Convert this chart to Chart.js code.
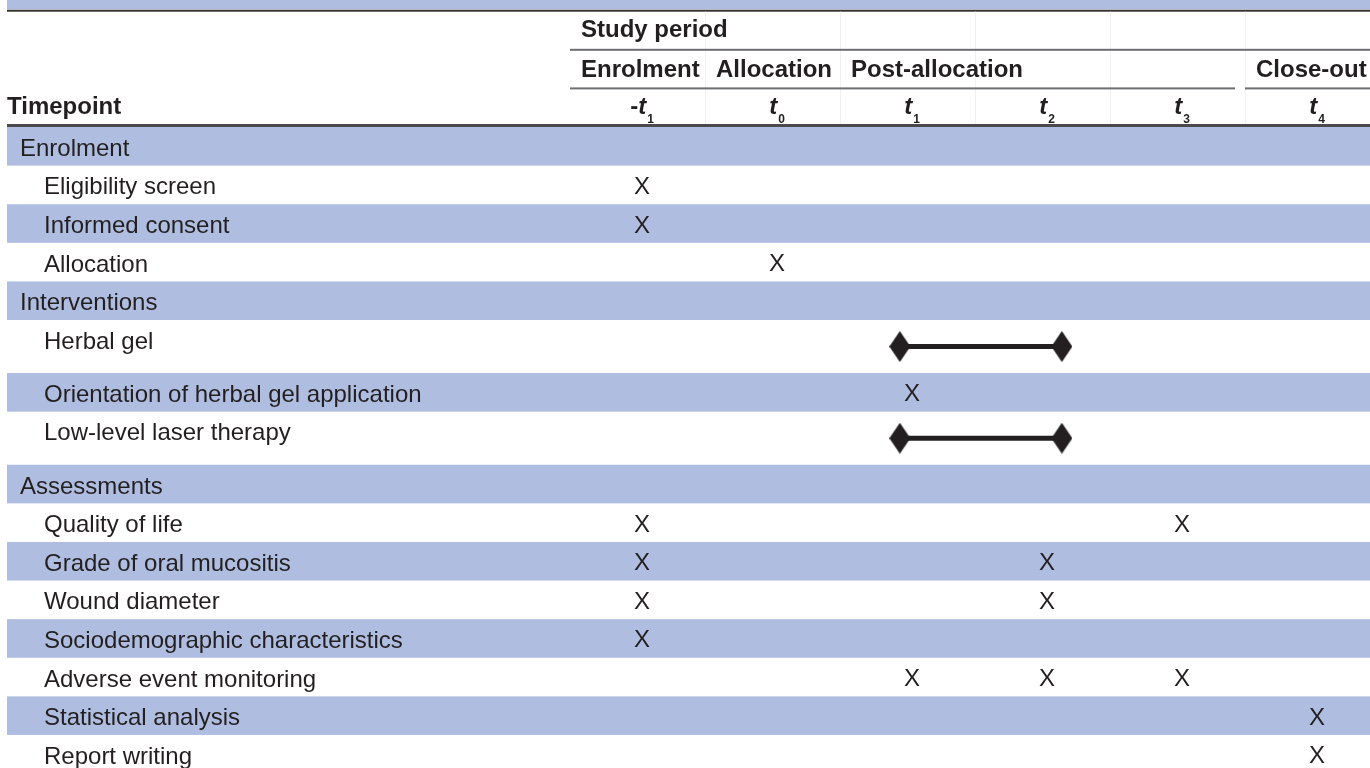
<!DOCTYPE html>
<html>
<head>
<meta charset="utf-8">
<script src="https://cdn.jsdelivr.net/npm/chart.js@4.4.1/dist/chart.umd.min.js"></script>
<style>
  html, body { margin: 0; padding: 0; background: #fff; }
  #wrap { width: 1370px; height: 768px; }
</style>
</head>
<body>
<div id="wrap"><canvas id="myChart"></canvas></div>
<script>
const ctx = document.getElementById("myChart");

// schedule rows, top to bottom
const rowLabels = [
  "Enrolment", "Eligibility screen", "Informed consent", "Allocation",
  "Interventions", "Herbal gel", "Orientation of herbal gel application",
  "Low-level laser therapy", "Assessments", "Quality of life",
  "Grade of oral mucositis", "Wound diameter", "Sociodemographic characteristics",
  "Adverse event monitoring", "Statistical analysis", "Report writing"
];
const sectionRows = ["Enrolment", "Interventions", "Assessments"];

// header
const studyPeriodLabel = "Study period";
const timepointHeader = "Timepoint";
const periodLabels = ["Enrolment", "Allocation", "Post-allocation", "Close-out"];
const periodFirstCol = [0, 1, 2, 5];
const periodLastCol = [0, 1, 4, 5];
const timepointPrefix = ["-", "", "", "", "", ""];
const timepointSubs = ["1", "0", "1", "2", "3", "4"];

// X marks: row + timepoint column
const markRows = [
  "Eligibility screen", "Informed consent", "Allocation",
  "Orientation of herbal gel application",
  "Quality of life", "Quality of life",
  "Grade of oral mucositis", "Grade of oral mucositis",
  "Wound diameter", "Wound diameter",
  "Sociodemographic characteristics",
  "Adverse event monitoring", "Adverse event monitoring", "Adverse event monitoring",
  "Statistical analysis", "Report writing"
];
const markCols = [0, 0, 1, 2, 0, 4, 0, 3, 0, 3, 0, 2, 3, 4, 5, 5];

// continuous interventions (diamond to diamond)
const spanRows = ["Herbal gel", "Low-level laser therapy"];
const spanFrom = [1.91, 1.91];
const spanTo = [3.11, 3.11];

// ---- layout ----
const tallRows = ["Herbal gel", "Low-level laser therapy"];
const TALL = 1.375;
const BAND = "#afbee0";
const INK = "#231f20";
const FONT = '"Liberation Sans", Arial, Helvetica, sans-serif';

const rowTop = [];
const rowSize = [];
let acc = 0;
rowLabels.forEach((r) => {
  const h = tallRows.includes(r) ? TALL : 1;
  rowTop.push(acc);
  rowSize.push(h);
  acc += h;
});
function rowCenter(label) {
  const i = rowLabels.indexOf(label);
  return rowTop[i] + rowSize[i] / 2;
}

const diamond = document.createElement("canvas");
diamond.width = 21;
diamond.height = 31;
(function () {
  const d = diamond.getContext("2d");
  d.fillStyle = INK;
  d.beginPath();
  d.moveTo(10.5, 0);
  d.lineTo(21, 15.5);
  d.lineTo(10.5, 31);
  d.lineTo(0, 15.5);
  d.closePath();
  d.fill();
})();

const tablePlugin = {
  id: "scheduleTable",
  beforeDatasetsDraw(chart) {
    const c = chart.ctx;
    const { x, y } = chart.scales;
    const W = chart.width;
    const L = 7;
    const unit = y.getPixelForValue(1) - y.getPixelForValue(0);
    const colLeft = (i) => x.getPixelForValue(i) - 72;

    c.save();
    c.fillStyle = "#fff";
    c.fillRect(0, 0, W, chart.height);

    // strip of the cut-off title row
    c.fillStyle = BAND;
    c.fillRect(L, 0, W - L, y.getPixelForValue(-3) - 2);
    c.fillStyle = "#333";
    c.fillRect(L, y.getPixelForValue(-3) - 1.5, W - L, 2);

    // faint column rules in the header
    c.fillStyle = "#f0f0f0";
    for (let i = 1; i < timepointSubs.length; i++) {
      c.fillRect(colLeft(i), y.getPixelForValue(-3) + 0.5, 1, y.getPixelForValue(0) - y.getPixelForValue(-3) - 3);
    }

    // body bands
    rowLabels.forEach((r, i) => {
      if (i % 2 === 0) {
        const t = y.getPixelForValue(rowTop[i]);
        const b = y.getPixelForValue(rowTop[i] + rowSize[i]);
        c.fillStyle = BAND;
        c.fillRect(L, t, W - L, b - t);
      }
    });

    // header rules
    c.fillStyle = "#6d6e71";
    c.fillRect(colLeft(0), y.getPixelForValue(-2) - 1, W - colLeft(0), 2);
    periodLabels.forEach((p, k) => {
      const x0 = colLeft(periodFirstCol[k]);
      const nextCol = periodLastCol[k] + 1;
      let x1 = nextCol < timepointSubs.length ? colLeft(nextCol) : W;
      if (p === "Post-allocation") x1 -= 10;
      c.fillRect(x0, y.getPixelForValue(-1) - 1, x1 - x0, 2);
    });
    c.fillStyle = "#4a4a4c";
    c.fillRect(L, y.getPixelForValue(0) - 3, W - L, 3);

    // header text
    c.fillStyle = INK;
    c.textBaseline = "alphabetic";
    c.textAlign = "left";
    c.font = "bold 24px " + FONT;
    c.fillText(studyPeriodLabel, colLeft(0) + 11, y.getPixelForValue(-2) - 13);
    periodLabels.forEach((p, k) => {
      c.fillText(p, colLeft(periodFirstCol[k]) + 11, y.getPixelForValue(-1) - 11);
    });
    const tpBase = y.getPixelForValue(0) - 13;
    c.fillText(timepointHeader, L, tpBase);

    timepointSubs.forEach((s, i) => {
      c.font = "bold 24px " + FONT;
      const wp = c.measureText(timepointPrefix[i]).width;
      c.font = "italic bold 24px " + FONT;
      const wt = c.measureText("t").width;
      c.font = "bold 12px " + FONT;
      const ws = c.measureText(s).width;
      let px = x.getPixelForValue(i) - (wp + wt + 1 + ws) / 2;
      c.font = "bold 24px " + FONT;
      c.fillText(timepointPrefix[i], px, tpBase);
      px += wp;
      c.font = "italic bold 24px " + FONT;
      c.fillText("t", px, tpBase);
      px += wt + 1;
      c.font = "bold 12px " + FONT;
      c.fillText(s, px, tpBase + 8.5);
    });

    // row labels
    c.font = "24px " + FONT;
    rowLabels.forEach((r, i) => {
      const base = y.getPixelForValue(rowTop[i]) + unit / 2 + 9.5;
      c.fillText(r, sectionRows.includes(r) ? 20 : 44, base);
    });
    c.restore();
  },
  afterDatasetsDraw(chart) {
    const c = chart.ctx;
    const meta = chart.getDatasetMeta(0);
    c.save();
    c.fillStyle = INK;
    c.font = "24px " + FONT;
    c.textAlign = "center";
    c.textBaseline = "alphabetic";
    meta.data.forEach((pt) => {
      c.fillText("X", pt.x, pt.y + 9);
    });
    c.restore();
  }
};

const datasets = [
  {
    label: "marks",
    data: markRows.map((r, i) => ({ x: markCols[i], y: rowCenter(r) })),
    pointRadius: 0,
    showLine: false
  }
];
spanRows.forEach((r, i) => {
  datasets.push({
    label: r,
    data: [
      { x: spanFrom[i], y: rowCenter(r) },
      { x: spanTo[i], y: rowCenter(r) }
    ],
    showLine: true,
    borderColor: INK,
    borderWidth: 5,
    pointStyle: diamond,
    pointRadius: 10,
    backgroundColor: INK
  });
});

new Chart(ctx, {
  type: "scatter",
  data: { datasets: datasets },
  options: {
    responsive: true,
    maintainAspectRatio: false,
    animation: false,
    events: [],
    layout: { padding: 0, autoPadding: false },
    plugins: { legend: { display: false }, tooltip: { enabled: false } },
    scales: {
      x: { type: "linear", display: false, min: -642 / 135, max: (1370 - 642) / 135 },
      y: { type: "linear", display: false, reverse: true, min: -127 / 38.6, max: (768 - 127) / 38.6 }
    }
  },
  plugins: [tablePlugin]
});
</script>
</body>
</html>
